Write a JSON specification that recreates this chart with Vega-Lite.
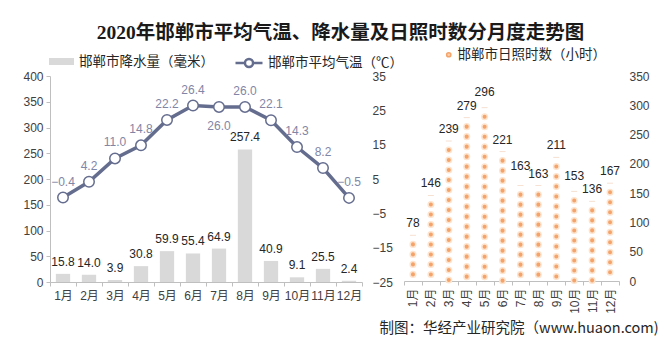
{
  "$schema": "https://vega.github.io/schema/vega-lite/v6.json",
  "padding": {"left": 22, "top": 22, "right": 5, "bottom": 5},
  "background": "white",
  "title": {
    "text": "2020年邯郸市平均气温、降水量及日照时数分月度走势图",
    "font": "Liberation Serif, Noto Sans CJK SC",
    "fontSize": 19.5,
    "fontWeight": "bold",
    "color": "#1a1a1a",
    "anchor": "middle",
    "offset": 5
  },
  "data": {
    "values": [
      {"month": "1月", "precip": 15.8, "temp": -0.4, "hours": 78},
      {"month": "2月", "precip": 14.0, "temp": 4.2, "hours": 146},
      {"month": "3月", "precip": 3.9, "temp": 11.0, "hours": 239},
      {"month": "4月", "precip": 30.8, "temp": 14.8, "hours": 279},
      {"month": "5月", "precip": 59.9, "temp": 22.2, "hours": 296},
      {"month": "6月", "precip": 55.4, "temp": 26.4, "hours": 221},
      {"month": "7月", "precip": 64.9, "temp": 26.0, "hours": 163},
      {"month": "8月", "precip": 257.4, "temp": 26.0, "hours": 163},
      {"month": "9月", "precip": 40.9, "temp": 22.1, "hours": 211},
      {"month": "10月", "precip": 9.1, "temp": 14.3, "hours": 153},
      {"month": "11月", "precip": 25.5, "temp": 8.2, "hours": 136},
      {"month": "12月", "precip": 2.4, "temp": -0.5, "hours": 167}
    ]
  },
  "bounds": "flush",
  "spacing": 42,
  "hconcat": [
    {
      "width": 312,
      "height": 206,
      "encoding": {
        "x": {
          "field": "month", "type": "nominal", "sort": null,
          "scale": {"paddingInner": 0, "paddingOuter": 0},
          "axis": {"title": null, "labelAngle": 0, "tickBand": "extent", "tickSize": 4, "labelPadding": 4}
        }
      },
      "layer": [
        {
          "encoding": {
            "y": {
              "field": "precip", "type": "quantitative",
              "scale": {"domain": [0, 400], "nice": false},
              "axis": {"title": null, "values": [0, 50, 100, 150, 200, 250, 300, 350, 400], "tickSize": 4, "labelPadding": 3}
            }
          },
          "layer": [
            {
              "mark": {"type": "bar", "width": {"band": 0.55}},
              "encoding": {
                "fill": {
                  "datum": "邯郸市降水量（毫米）",
                  "scale": {"range": ["#d9d9d9"]},
                  "legend": {
                    "title": null, "orient": "none", "legendX": -2, "legendY": -28,
                    "symbolType": "M-1,-0.28L1,-0.28L1,0.28L-1,0.28Z",
                    "symbolSize": 625, "labelOffset": 4
                  }
                }
              }
            },
            {
              "mark": {"type": "text", "baseline": "bottom", "dy": -5, "fontSize": 12, "color": "#262626"},
              "encoding": {"text": {"field": "precip", "type": "quantitative", "format": ".1f"}}
            }
          ]
        },
        {
          "encoding": {
            "y": {
              "field": "temp", "type": "quantitative",
              "scale": {"domain": [-25, 35], "nice": false, "zero": false},
              "axis": {"title": null, "orient": "right", "values": [-25, -15, -5, 5, 15, 25, 35], "domain": false, "ticks": false, "tickSize": 0, "labelPadding": 10}
            }
          },
          "layer": [
            {
              "mark": {
                "type": "line", "strokeWidth": 3.5,
                "point": {"filled": true, "fill": "white", "size": 110, "strokeWidth": 1.5, "stroke": "#656d8f"}
              },
              "encoding": {
                "stroke": {
                  "datum": "邯郸市平均气温（℃）",
                  "scale": {"range": ["#656d8f"]},
                  "legend": {
                    "title": null, "orient": "none", "legendX": 184, "legendY": -28,
                    "symbolType": "M-1,0L-0.3,0M0.3,0L1,0M0.3,0A0.3,0.3 0 1 1 -0.3,0A0.3,0.3 0 1 1 0.3,0",
                    "symbolSize": 729, "symbolStrokeWidth": 2.5, "labelOffset": 4,
                    "encode": {"symbols": {"update": {"fill": {"value": "white"}, "strokeWidth": {"value": 2.5}}}}
                  }
                }
              }
            },
            {
              "transform": [{"filter": "datum.month !== '7月'"}],
              "mark": {"type": "text", "baseline": "middle", "dy": -16, "fontSize": 12, "color": "#8186a6"},
              "encoding": {"text": {"field": "temp", "type": "quantitative", "format": ".1f"}}
            },
            {
              "transform": [{"filter": "datum.month === '7月'"}],
              "mark": {"type": "text", "baseline": "middle", "dy": 19, "fontSize": 12, "color": "#8186a6"},
              "encoding": {"text": {"field": "temp", "type": "quantitative", "format": ".1f"}}
            }
          ]
        }
      ],
      "resolve": {"scale": {"y": "independent"}}
    },
    {
      "width": 215,
      "height": 205,
      "encoding": {
        "x": {
          "field": "month", "type": "nominal", "sort": null,
          "scale": {"paddingInner": 0, "paddingOuter": 0},
          "axis": {
            "title": "制图：华经产业研究院（www.huaon.com)",
            "titleFont": "Noto Sans CJK SC, Liberation Sans",
            "titleFontSize": 14.5, "titleFontWeight": "normal", "titleColor": "#262626",
            "titleX": -25, "titleY": 47, "titleAlign": "left", "titleBaseline": "middle", "titleAnchor": "start",
            "labelAngle": -90, "tickBand": "extent", "tickSize": 4, "labelPadding": 3
          }
        },
        "y": {
          "field": "hours", "type": "quantitative",
          "scale": {"domain": [0, 350], "nice": false},
          "axis": {"title": null, "orient": "right", "values": [0, 50, 100, 150, 200, 250, 300, 350], "domain": false, "ticks": false, "tickSize": 0, "labelPadding": 10}
        }
      },
      "layer": [
        {
          "mark": {"type": "rule", "strokeWidth": 7, "strokeDash": [0.1, 9.9], "strokeDashOffset": 1, "strokeCap": "round", "color": "#fde4cf"},
          "encoding": {"y2": {"datum": 0}}
        },
        {
          "mark": {"type": "rule", "strokeWidth": 4, "strokeDash": [0.1, 9.9], "strokeDashOffset": 1, "strokeCap": "round"},
          "encoding": {
            "y2": {"datum": 0},
            "color": {
              "datum": "邯郸市日照时数（小时）",
              "scale": {"range": ["#f4a36a"]},
              "legend": {
                "title": null, "orient": "none", "legendX": 392, "legendY": -28,
                "symbolType": "circle", "symbolSize": 18, "labelOffset": 2,
                "encode": {"symbols": {"update": {"fill": {"value": "#f9cfae"}, "stroke": {"value": "#f9cfae"}}}}
              }
            }
          }
        },
        {
          "mark": {"type": "tick", "orient": "horizontal", "size": 6, "thickness": 1, "color": "#f2d3bd"},
          "encoding": {}
        },
        {
          "transform": [{"filter": "datum.month !== '5月' && datum.month !== '7月' && datum.month !== '10月'"}],
          "mark": {"type": "text", "baseline": "bottom", "dy": -5, "fontSize": 12, "color": "#262626"},
          "encoding": {"text": {"field": "hours", "type": "quantitative"}}
        },
        {
          "transform": [{"filter": "datum.month === '5月'"}],
          "mark": {"type": "text", "baseline": "bottom", "dy": -9, "fontSize": 12, "color": "#262626"},
          "encoding": {"text": {"field": "hours", "type": "quantitative"}}
        },
        {
          "transform": [{"filter": "datum.month === '7月'"}],
          "mark": {"type": "text", "baseline": "bottom", "dy": -13, "fontSize": 12, "color": "#262626"},
          "encoding": {"text": {"field": "hours", "type": "quantitative"}}
        },
        {
          "transform": [{"filter": "datum.month === '10月'"}],
          "mark": {"type": "text", "baseline": "bottom", "dy": -8, "fontSize": 12, "color": "#262626"},
          "encoding": {"text": {"field": "hours", "type": "quantitative"}}
        }
      ]
    }
  ],
  "config": {
    "font": "Liberation Sans, Noto Sans CJK SC",
    "view": {"stroke": null},
    "axis": {
      "grid": false,
      "labelFont": "Liberation Sans, Noto Sans CJK SC",
      "labelFontSize": 12,
      "labelColor": "#404040",
      "domainColor": "#bfbfbf",
      "tickColor": "#bfbfbf"
    },
    "legend": {
      "labelFont": "Noto Sans CJK SC",
      "labelFontSize": 13.5,
      "labelColor": "#262626",
      "labelLimit": 300
    }
  }
}
